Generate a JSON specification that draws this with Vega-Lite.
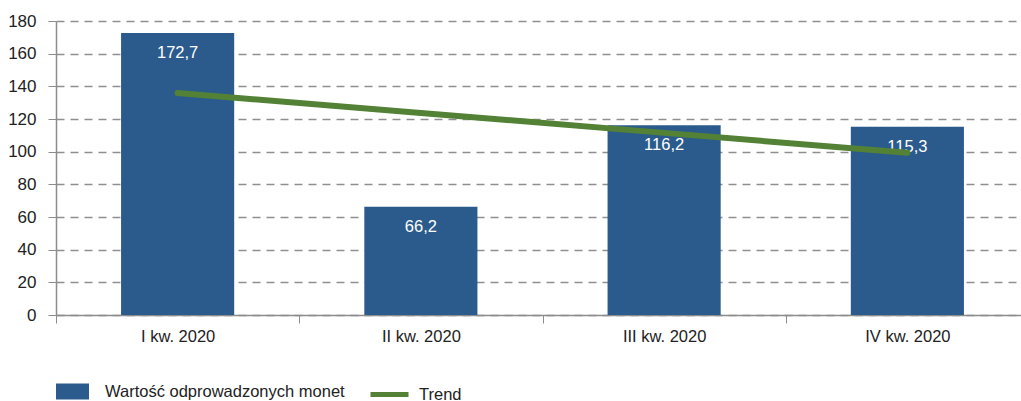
{
  "$schema": "https://vega.github.io/schema/vega-lite/v6.json",
  "autosize": {"type": "none"},
  "width": 973,
  "height": 294,
  "padding": {"left": 56, "top": 21, "right": 0, "bottom": 86},
  "background": "white",
  "config": {
    "font": "Liberation Sans",
    "view": {"stroke": null},
    "locale": {"number": {"decimal": ",", "thousands": " ", "grouping": [3], "currency": ["", " zł"]}},
    "axis": {"labelFont": "Liberation Sans", "labelFontSize": 17, "labelColor": "#222222", "domainColor": "#8c8c8c", "tickColor": "#8c8c8c", "tickSize": 8, "title": null, "labelOverlap": false},
    "legend": {"labelFont": "Liberation Sans", "labelFontSize": 16.5, "labelColor": "#222222", "padding": 0, "labelLimit": 0}
  },
  "data": {
    "values": [
      {"q": "I kw. 2020", "value": 172.7, "trend": 135.9},
      {"q": "II kw. 2020", "value": 66.2, "trend": 123.7},
      {"q": "III kw. 2020", "value": 116.2, "trend": 111.5},
      {"q": "IV kw. 2020", "value": 115.3, "trend": 99.3}
    ]
  },
  "encoding": {
    "x": {
      "field": "q", "type": "nominal", "sort": null,
      "scale": {"paddingInner": 0, "paddingOuter": 0},
      "axis": {"labelAngle": 0, "tickBand": "extent", "grid": false, "labelPadding": 5, "domainWidth": 1.5, "labelFontSize": 16.5}
    },
    "y": {
      "field": "value", "type": "quantitative",
      "scale": {"domain": [0, 180], "nice": false, "zero": true},
      "axis": {"values": [0, 20, 40, 60, 80, 100, 120, 140, 160, 180], "tickCount": 10, "grid": true, "gridDash": [8, 6], "gridColor": "#8f8f8f", "gridWidth": 1.6, "labelPadding": 12, "domainWidth": 1.5, "labelOverlap": false}
    }
  },
  "layer": [
    {
      "mark": {"type": "bar", "width": {"band": 0.465}},
      "encoding": {
        "fill": {
          "datum": "Wartość odprowadzonych monet",
          "scale": {"range": ["#2B5B8C"]},
          "legend": {"title": null, "orient": "none", "legendX": 0, "legendY": 354, "symbolType": "M-1,-0.485H1V0.485H-1Z", "symbolSize": 1089, "symbolStrokeWidth": 0, "labelOffset": 16}
        }
      }
    },
    {
      "mark": {"type": "text", "color": "white", "baseline": "middle", "dy": 20, "fontSize": 16.5, "font": "Liberation Sans"},
      "encoding": {
        "text": {"field": "value", "type": "quantitative", "format": ".1f"}
      }
    },
    {
      "mark": {"type": "line", "strokeWidth": 6, "strokeCap": "round"},
      "encoding": {
        "y": {
          "field": "trend", "type": "quantitative",
          "scale": {"domain": [0, 180], "nice": false, "zero": true},
          "axis": {"values": [0, 20, 40, 60, 80, 100, 120, 140, 160, 180], "tickCount": 10, "grid": true, "gridDash": [8, 6], "gridColor": "#8f8f8f", "gridWidth": 1.6, "labelPadding": 12, "domainWidth": 1.5, "labelOverlap": false}
        },
        "stroke": {
          "datum": "Trend",
          "scale": {"range": ["#538135"]},
          "legend": {"title": null, "orient": "none", "legendX": 312, "legendY": 352, "symbolType": "stroke", "symbolSize": 1444, "symbolStrokeWidth": 5, "labelOffset": 8}
        }
      }
    }
  ]
}
